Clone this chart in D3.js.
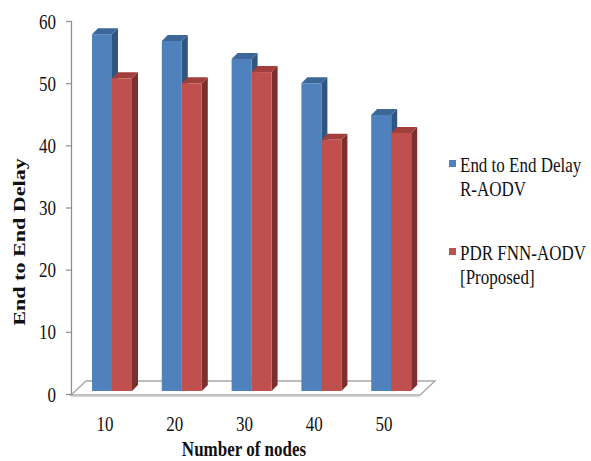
<!DOCTYPE html>
<meta charset="utf-8">
<style>
    body{ margin:0; background:#fff; }
    svg{ display:block; }
    .tick text{ font-family:"Liberation Serif","Times New Roman",serif; font-size:17px; fill:#111; }
    .lbl{ font-family:"Liberation Serif","Times New Roman",serif; fill:#111; }
</style>
<body>
<svg id="chart" width="591" height="461"></svg>
</body>
<script src="https://d3js.org/d3.v7.min.js"></script>
<script>
// data
var nodes = ["10", "20", "30", "40", "50"];
var delayRAODV = [57.4, 56.3, 53.4, 49.5, 44.4];
var pdrFNN = [50.3, 49.5, 51.3, 40.4, 41.5];
var seriesNames = [["End to End Delay", "R-AODV"], ["PDR FNN-AODV", "[Proposed]"]];
var yTicks = [0, 10, 20, 30, 40, 50, 60];

var frontC = ["#4f81bd", "#c0504d"],
    sideC  = ["#30557f", "#7c302e"],
    topC   = ["#3e6799", "#a23f3c"];

var svg = d3.select("#chart");
var stretch = 1.2; // picture is stretched vertically

var x = d3.scaleBand().domain(nodes).range([71, 420]);
var y = d3.scaleLinear().domain([0, 60]).range([394, 21]);
var yBar = d3.scaleLinear().domain([0, 60]).range([391, 18]);
var dep = 14, depX = 15; // floor depth
var bw = 20, bd = 6;     // bar width, bar depth

// floor
svg.append("polygon")
    .attr("points", [[71, 395], [420, 395], [420 + depX, 395 - dep], [71 + depX, 395 - dep]].join(" "))
    .attr("fill", "#fff").attr("stroke", "#a6a6a6").attr("stroke-width", 1.3);
svg.append("line").attr("x1", 71).attr("x2", 420).attr("y1", 396.5).attr("y2", 396.5)
    .attr("stroke", "#d9d9d9").attr("stroke-width", 1.5);

// y axis
var yAxis = svg.append("g")
    .attr("transform", "translate(71,0)")
    .call(d3.axisLeft(y).tickValues(yTicks).tickSize(5).tickPadding(10));
yAxis.selectAll("path, line").attr("stroke", "#8c8c8c").attr("stroke-width", 1.2);
yAxis.selectAll("text").attr("dy", "0.35em")
    .attr("transform", "scale(1," + stretch + ")");

// x labels
svg.selectAll(".xl").data(nodes).enter().append("text")
    .attr("class", "lbl")
    .attr("text-anchor", "middle")
    .attr("font-size", 17)
    .attr("transform", function(d) { return "translate(" + (x(d) + x.bandwidth() / 2 - 1) + ",431) scale(1," + stretch + ")"; })
    .text(function(d) { return d; });

// bars
var series = [delayRAODV, pdrFNN];
nodes.forEach(function(c, ci) {
    series.forEach(function(vals, si) {
        var x0 = x(c) + 21 + si * bw, x1 = x0 + bw;
        var y0 = yBar(0), y1 = yBar(vals[ci]);
        var g = svg.append("g");
        g.append("polygon")
            .attr("points", [[x1, y1], [x1 + bd, y1 - bd], [x1 + bd, y0 - bd], [x1, y0]].join(" "))
            .attr("fill", sideC[si]);
        g.append("polygon")
            .attr("points", [[x0, y1], [x0 + bd, y1 - bd], [x1 + bd, y1 - bd], [x1, y1]].join(" "))
            .attr("fill", topC[si]);
        g.append("rect")
            .attr("x", x0).attr("y", y1).attr("width", bw).attr("height", y0 - y1)
            .attr("fill", frontC[si]);
    });
});

// axis titles
svg.append("text").attr("class", "lbl")
    .attr("font-size", 17).attr("font-weight", "bold").attr("text-anchor", "middle")
    .attr("transform", "translate(25,242) scale(1,1.3) rotate(-90)")
    .text("End to End Delay");
svg.append("text").attr("class", "lbl")
    .attr("font-size", 17).attr("font-weight", "bold").attr("text-anchor", "middle")
    .attr("transform", "translate(244,456) scale(1," + stretch + ")")
    .text("Number of nodes");

// legend
var legY = [160, 248];
seriesNames.forEach(function(lines, i) {
    svg.append("rect").attr("x", 449).attr("y", legY[i]).attr("width", 7).attr("height", 7)
        .attr("fill", frontC[i]);
    lines.forEach(function(t, j) {
        svg.append("text").attr("class", "lbl").attr("font-size", 17)
            .attr("transform", "translate(460," + (legY[i] + 12 + j * 23.5) + ") scale(1," + stretch + ")")
            .text(t);
    });
});
</script>
